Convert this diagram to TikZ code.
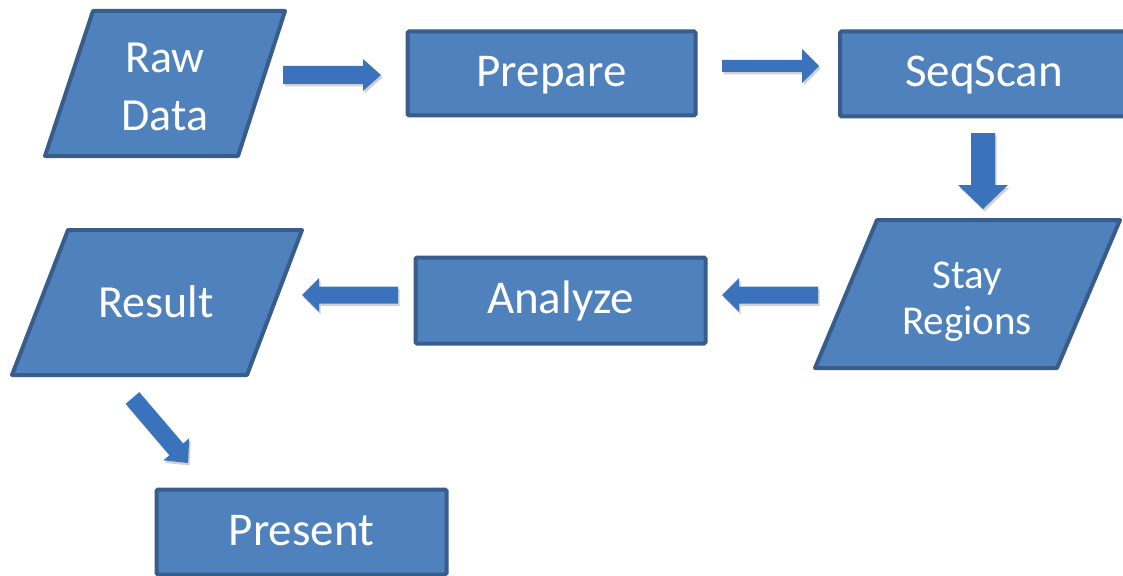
\documentclass[tikz,border=0pt]{standalone}
\usepackage{fontspec}
\setmainfont{Carlito}
\usetikzlibrary{calc}
\definecolor{boxfill}{HTML}{4F81BD}
\definecolor{boxline}{HTML}{385D8A}
\definecolor{arrowfill}{HTML}{3A73BB}
\tikzset{
  box/.style={draw=boxline, fill=boxfill, line width=4pt, rounded corners=1.5pt,
    text=white, font=\fontsize{47}{58}\selectfont, inner sep=0pt,
    text height=30pt, text depth=4pt},
  para/.style={draw=boxline, fill=boxfill, line width=4pt, line join=round},
  lbl/.style={text=white, font=\fontsize{46}{58}\selectfont, align=center, inner sep=0pt},
  arrowshadow/.style={fill=black, opacity=.18},
  arrowbody/.style={fill=arrowfill},
}
% #1 start, #2 end, #3 shaft half width, #4 head half width, #5 head length
\newcommand{\fatarrowpath}[5]{%
  ($(#1)!#3!90:(#2)$) -- ($(hb)!#3!90:(#2)$) -- ($(hb)!#4!90:(#2)$) -- (#2)
  -- ($(hb)!#4!-90:(#2)$) -- ($(hb)!#3!-90:(#2)$) -- ($(#1)!#3!-90:(#2)$) -- cycle}
\newcommand{\fatarrow}[5]{%
  \coordinate (hb) at ($(#2)!#5!(#1)$);
  \begin{scope}[transform canvas={shift={(1.5pt,-2.5pt)}}]
    \fill[arrowshadow] \fatarrowpath{#1}{#2}{#3}{#4}{#5};
  \end{scope}
  \fill[arrowbody] \fatarrowpath{#1}{#2}{#3}{#4}{#5};
}
\begin{document}
\begin{tikzpicture}[x=1pt, y=-1pt]
\useasboundingbox (0,0) rectangle (1123,575);

% Raw Data
\draw[para] (93,11) -- (285,11) -- (238,156) -- (45,156) -- cycle;
\node[lbl] (raw) at (165,86.5) {Raw\\Data};

% Prepare
\node[box, minimum width=288pt, minimum height=84pt] (prep) at (551.5,73.5) {Prepare};

% SeqScan
\node[box, minimum width=288pt, minimum height=85pt] (seq) at (984,74) {SeqScan};

% Stay Regions
\draw[para] (877,220) -- (1120,220) -- (1057,368) -- (815,368) -- cycle;
\node[lbl, font=\fontsize{41}{46}\selectfont] (stay) at (967,301.5) {Stay\\Regions};

% Analyze
\node[box, minimum width=290pt, minimum height=86pt] (ana) at (560.5,300.5) {Analyze};

% Result
\draw[para] (68,230) -- (302,230) -- (247,375) -- (12,375) -- cycle;
\node[lbl] (res) at (156,302) {Result};

% Present
\node[box, minimum width=290pt, minimum height=85pt] (pres) at (301.5,532) {Present};

% arrow end points
\coordinate (a1s) at (283,75);   \coordinate (a1e) at (381,75);
\coordinate (a2s) at (722,66);   \coordinate (a2e) at (819,66);
\coordinate (a3s) at (983,133);  \coordinate (a3e) at (983,209);
\coordinate (a4s) at (818,295);  \coordinate (a4e) at (722,295);
\coordinate (a5s) at (398,295);  \coordinate (a5e) at (302,295);
\coordinate (a6s) at (132.5,398);\coordinate (a6e) at (188,463);

\fatarrow{a1s}{a1e}{9pt}{16pt}{18pt}
\fatarrow{a2s}{a2e}{6pt}{17pt}{17pt}
\fatarrow{a3s}{a3e}{12pt}{25pt}{24pt}
\fatarrow{a4s}{a4e}{8.5pt}{17pt}{17pt}
\fatarrow{a5s}{a5e}{8.5pt}{17pt}{17pt}
\fatarrow{a6s}{a6e}{9pt}{17pt}{18pt}
\end{tikzpicture}
\end{document}
